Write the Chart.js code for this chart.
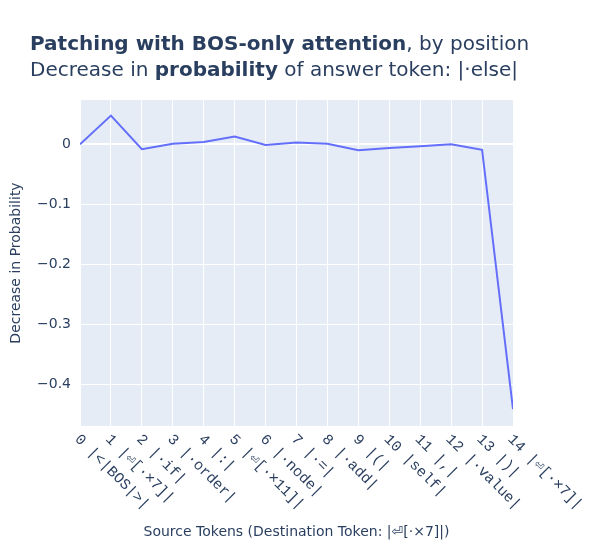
<!DOCTYPE html>
<html lang="en">
<head>
  <meta charset="UTF-8" />
  <title>Patching with BOS-only attention</title>
  <script src="https://cdn.jsdelivr.net/npm/chart.js"></script>
  <style>
    html, body { margin: 0; padding: 0; background: #fff; }
    #wrap { position: relative; width: 600px; height: 550px; }
    #title {
      position: absolute; left: 30px; top: 30px;
      font-family: "DejaVu Sans", Verdana, sans-serif;
      font-size: 20px; line-height: 26px; color: #2a3f5f;
    }
  </style>
</head>
<body>
  <div id="wrap">
    <canvas id="chart" width="600" height="550"></canvas>
    <div id="title"><b>Patching with BOS-only attention</b>, by position<br>Decrease in <b>probability</b> of answer token: |·else|</div>
  </div>

  <script>
    // token labels along the x axis
    const tokens = ['|<|BOS|>|', '|⏎[·×7]|', '|·if|', '|·order|', '|:|', '|⏎[·×11]|', '|·node|',
      '|·=|', '|·add|', '|(|', '|self|', '|,|', '|·value|', '|)|', '|⏎[·×7]|'];
    const positions = tokens.map((t, i) => i);
    const decrease = [0, 0.048, -0.008, 0.001, 0.004, 0.013, -0.001, 0.003, 0.001,
      -0.010, -0.006, -0.003, 0, -0.009, -0.442];
    const yTicks = [0, -0.1, -0.2, -0.3, -0.4];

    const font = '"DejaVu Sans", Verdana, sans-serif';
    const ink = '#2a3f5f';

    // x tick labels go down to the right, which chart.js can't do by itself
    const slantLabels = {
      id: 'slantLabels',
      afterDraw(chart) {
        const ctx = chart.ctx;
        const x = chart.scales.x;
        ctx.save();
        ctx.font = '15px "Liberation Mono", "DejaVu Sans Mono", monospace';
        ctx.fillStyle = ink;
        ctx.textAlign = 'left';
        ctx.textBaseline = 'middle';
        positions.forEach(i => {
          ctx.save();
          ctx.translate(x.getPixelForValue(i) - 3, chart.chartArea.bottom + 11);
          ctx.rotate(Math.PI / 4);
          ctx.fillText(i + ' ' + tokens[i], 0, 0);
          ctx.restore();
        });
        ctx.restore();
      }
    };

    const plotBg = {
      id: 'plotBg',
      beforeDraw(chart) {
        const a = chart.chartArea;
        chart.ctx.save();
        chart.ctx.fillStyle = '#E5ECF6';
        chart.ctx.fillRect(a.left, a.top, a.right - a.left, a.bottom - a.top);
        chart.ctx.restore();
      }
    };

    new Chart(document.getElementById('chart'), {
      type: 'line',
      data: {
        labels: positions,
        datasets: [{
          data: decrease,
          borderColor: '#636EFA',
          borderWidth: 2,
          pointRadius: 0,
          tension: 0,
          fill: false
        }]
      },
      options: {
        responsive: false,
        animation: false,
        layout: { padding: { top: 100, right: 87, left: 8, bottom: 0 } },
        plugins: { legend: { display: false }, tooltip: { enabled: false } },
        scales: {
          x: {
            type: 'linear',
            min: 0,
            max: 14,
            afterFit: s => { s.height = 124; },
            afterBuildTicks: s => { s.ticks = positions.map(v => ({ value: v })); },
            border: { display: false },
            grid: { color: '#ffffff', lineWidth: 1, drawTicks: false },
            ticks: { display: false },
            title: {
              display: true,
              text: 'Source Tokens (Destination Token: |⏎[·×7]|)',
              color: ink,
              font: { family: font, size: 14 },
              padding: { top: 0, bottom: 9 }
            }
          },
          y: {
            min: -0.47,
            max: 0.074,
            afterFit: s => { s.width = 72; },
            afterBuildTicks: s => { s.ticks = yTicks.map(v => ({ value: v })); },
            border: { display: false },
            grid: {
              color: '#ffffff',
              lineWidth: ctx => ctx.tick && ctx.tick.value === 0 ? 2 : 1,
              drawTicks: false
            },
            ticks: {
              color: ink,
              padding: 9,
              font: { family: font, size: 14 },
              callback: v => v === 0 ? '0' : '\u2212' + Math.abs(v).toFixed(1)
            },
            title: {
              display: true,
              text: 'Decrease in Probability',
              color: ink,
              font: { family: font, size: 14 },
              padding: { top: 0, bottom: 0 }
            }
          }
        }
      },
      plugins: [plotBg, slantLabels]
    });
  </script>
</body>
</html>
